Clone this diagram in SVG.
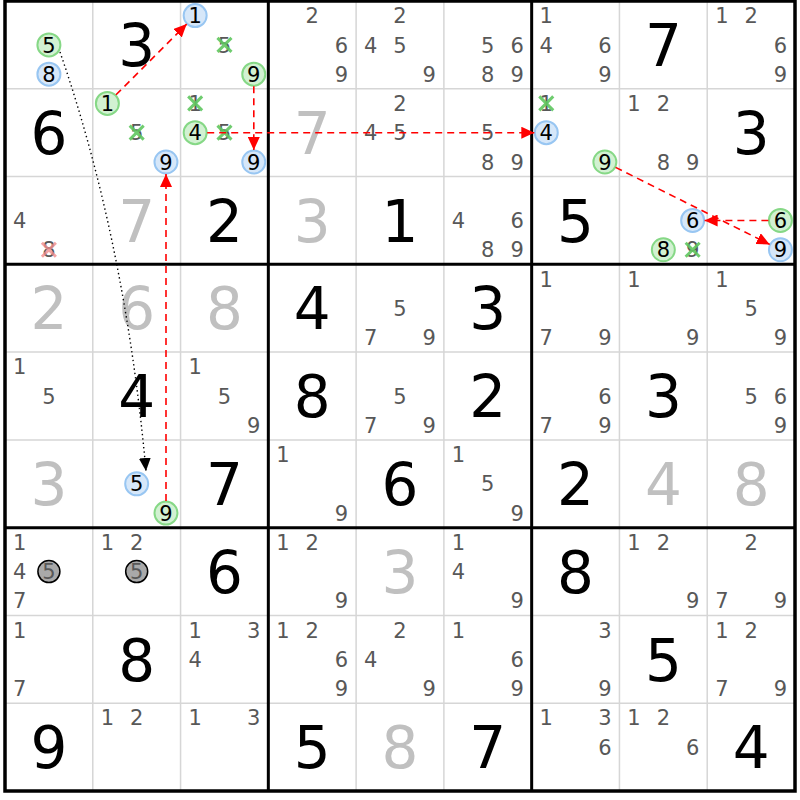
<svg xmlns="http://www.w3.org/2000/svg" xmlns:xlink="http://www.w3.org/1999/xlink" width="800" height="800" viewBox="0 0 800 800">
<style>
text{font-family:"DejaVu Sans","Verdana",sans-serif;text-anchor:middle}
.c{font-size:21px;fill:#585858}
.k{font-size:21px;fill:#000}
.b{font-size:58px;fill:#000}
.g{font-size:58px;fill:#c0c0c0}
.cg{fill:#d2f1d2;stroke:#86d886;stroke-width:2}
.cb{fill:#d6e7f9;stroke:#98c6f2;stroke-width:2}
.cy{fill:#a9a9a9;stroke:#000;stroke-width:1.5}
.xg{stroke:#5fc75f;stroke-width:3;fill:none;opacity:0.9}
.xr{stroke:#f08c8c;stroke-width:3;fill:none;opacity:0.8}
.thin{stroke:#d6d6d6;stroke-width:1.5}
.thick{stroke:#000;stroke-width:3}
.red{fill:none;stroke:#ff0000;stroke-width:1.6;stroke-dasharray:7,5}
.dot{fill:none;stroke:#000;stroke-width:1.4;stroke-dasharray:1.4,3}
</style>
<defs>
<path id="x" d="M-7,-7L7,7M7,-7L-7,7"/>
<marker id="ar" markerUnits="userSpaceOnUse" markerWidth="14" markerHeight="12" refX="13" refY="6" orient="auto" viewBox="0 0 14 12"><path d="M0,0L13,6L0,12z" fill="#ff0000"/></marker>
<marker id="ak" markerUnits="userSpaceOnUse" markerWidth="14" markerHeight="12" refX="13" refY="6" orient="auto" viewBox="0 0 14 12"><path d="M0,0L13,6L0,12z" fill="#000"/></marker>
</defs>
<rect x="0" y="0" width="800" height="800" fill="#fff"/>
<g id="grid">
<path class="thin" d="M92.78,1V791M180.56,1V791M356.11,1V791M443.89,1V791M619.44,1V791M707.22,1V791M5,88.78H795M5,176.56H795M5,352.11H795M5,439.89H795M5,615.44H795M5,703.22H795"/>
<path class="thick" d="M268.33,1V791M531.67,1V791M5,264.33H795M5,527.67H795"/>
<rect x="5" y="1" width="790" height="790" fill="none" stroke="#000" stroke-width="3.5"/>
</g>
<g id="cells">
<!-- row 1 -->
<g id="r1c1" transform="translate(5,1)"><circle class="cg" cx="43.9" cy="43.9" r="11.5"/><text class="k" x="43.9" y="51.5">5</text><circle class="cb" cx="43.9" cy="73.2" r="11.5"/><text class="k" x="43.9" y="80.8">8</text></g>
<g id="r1c2" transform="translate(92.78,1)"><text class="b" x="43.9" y="65.1">3</text></g>
<g id="r1c3" transform="translate(180.56,1)"><circle class="cb" cx="14.6" cy="14.6" r="11.5"/><text class="k" x="14.6" y="22.2">1</text><text class="c" x="43.9" y="51.5">5</text><use href="#x" xlink:href="#x" class="xg" x="43.9" y="43.9"/><circle class="cg" cx="73.2" cy="73.2" r="11.5"/><text class="k" x="73.2" y="80.8">9</text></g>
<g id="r1c4" transform="translate(268.33,1)"><text class="c" x="43.9" y="22.2">2</text><text class="c" x="73.2" y="51.5">6</text><text class="c" x="73.2" y="80.8">9</text></g>
<g id="r1c5" transform="translate(356.11,1)"><text class="c" x="43.9" y="22.2">2</text><text class="c" x="14.6" y="51.5">4</text><text class="c" x="43.9" y="51.5">5</text><text class="c" x="73.2" y="80.8">9</text></g>
<g id="r1c6" transform="translate(443.89,1)"><text class="c" x="43.9" y="51.5">5</text><text class="c" x="73.2" y="51.5">6</text><text class="c" x="43.9" y="80.8">8</text><text class="c" x="73.2" y="80.8">9</text></g>
<g id="r1c7" transform="translate(531.67,1)"><text class="c" x="14.6" y="22.2">1</text><text class="c" x="14.6" y="51.5">4</text><text class="c" x="73.2" y="51.5">6</text><text class="c" x="73.2" y="80.8">9</text></g>
<g id="r1c8" transform="translate(619.44,1)"><text class="b" x="43.9" y="65.1">7</text></g>
<g id="r1c9" transform="translate(707.22,1)"><text class="c" x="14.6" y="22.2">1</text><text class="c" x="43.9" y="22.2">2</text><text class="c" x="73.2" y="51.5">6</text><text class="c" x="73.2" y="80.8">9</text></g>
<!-- row 2 -->
<g id="r2c1" transform="translate(5,88.78)"><text class="b" x="43.9" y="65.1">6</text></g>
<g id="r2c2" transform="translate(92.78,88.78)"><circle class="cg" cx="14.6" cy="14.6" r="11.5"/><text class="k" x="14.6" y="22.2">1</text><text class="c" x="43.9" y="51.5">5</text><use href="#x" xlink:href="#x" class="xg" x="43.9" y="43.9"/><circle class="cb" cx="73.2" cy="73.2" r="11.5"/><text class="k" x="73.2" y="80.8">9</text></g>
<g id="r2c3" transform="translate(180.56,88.78)"><text class="c" x="14.6" y="22.2">1</text><use href="#x" xlink:href="#x" class="xg" x="14.6" y="14.6"/><circle class="cg" cx="14.6" cy="43.9" r="11.5"/><text class="k" x="14.6" y="51.5">4</text><text class="c" x="43.9" y="51.5">5</text><use href="#x" xlink:href="#x" class="xg" x="43.9" y="43.9"/><circle class="cb" cx="73.2" cy="73.2" r="11.5"/><text class="k" x="73.2" y="80.8">9</text></g>
<g id="r2c4" transform="translate(268.33,88.78)"><text class="g" x="43.9" y="65.1">7</text></g>
<g id="r2c5" transform="translate(356.11,88.78)"><text class="c" x="43.9" y="22.2">2</text><text class="c" x="14.6" y="51.5">4</text><text class="c" x="43.9" y="51.5">5</text></g>
<g id="r2c6" transform="translate(443.89,88.78)"><text class="c" x="43.9" y="51.5">5</text><text class="c" x="43.9" y="80.8">8</text><text class="c" x="73.2" y="80.8">9</text></g>
<g id="r2c7" transform="translate(531.67,88.78)"><text class="c" x="14.6" y="22.2">1</text><use href="#x" xlink:href="#x" class="xg" x="14.6" y="14.6"/><circle class="cb" cx="14.6" cy="43.9" r="11.5"/><text class="k" x="14.6" y="51.5">4</text><circle class="cg" cx="73.2" cy="73.2" r="11.5"/><text class="k" x="73.2" y="80.8">9</text></g>
<g id="r2c8" transform="translate(619.44,88.78)"><text class="c" x="14.6" y="22.2">1</text><text class="c" x="43.9" y="22.2">2</text><text class="c" x="43.9" y="80.8">8</text><text class="c" x="73.2" y="80.8">9</text></g>
<g id="r2c9" transform="translate(707.22,88.78)"><text class="b" x="43.9" y="65.1">3</text></g>
<!-- row 3 -->
<g id="r3c1" transform="translate(5,176.56)"><text class="c" x="14.6" y="51.5">4</text><text class="c" x="43.9" y="80.8">8</text><use href="#x" xlink:href="#x" class="xr" x="43.9" y="73.2"/></g>
<g id="r3c2" transform="translate(92.78,176.56)"><text class="g" x="43.9" y="65.1">7</text></g>
<g id="r3c3" transform="translate(180.56,176.56)"><text class="b" x="43.9" y="65.1">2</text></g>
<g id="r3c4" transform="translate(268.33,176.56)"><text class="g" x="43.9" y="65.1">3</text></g>
<g id="r3c5" transform="translate(356.11,176.56)"><text class="b" x="43.9" y="65.1">1</text></g>
<g id="r3c6" transform="translate(443.89,176.56)"><text class="c" x="14.6" y="51.5">4</text><text class="c" x="73.2" y="51.5">6</text><text class="c" x="43.9" y="80.8">8</text><text class="c" x="73.2" y="80.8">9</text></g>
<g id="r3c7" transform="translate(531.67,176.56)"><text class="b" x="43.9" y="65.1">5</text></g>
<g id="r3c8" transform="translate(619.44,176.56)"><circle class="cb" cx="73.2" cy="43.9" r="11.5"/><text class="k" x="73.2" y="51.5">6</text><circle class="cg" cx="43.9" cy="73.2" r="11.5"/><text class="k" x="43.9" y="80.8">8</text><text class="c" x="73.2" y="80.8">9</text><use href="#x" xlink:href="#x" class="xg" x="73.2" y="73.2"/></g>
<g id="r3c9" transform="translate(707.22,176.56)"><circle class="cg" cx="73.2" cy="43.9" r="11.5"/><text class="k" x="73.2" y="51.5">6</text><circle class="cb" cx="73.2" cy="73.2" r="11.5"/><text class="k" x="73.2" y="80.8">9</text></g>
<!-- row 4 -->
<g id="r4c1" transform="translate(5,264.33)"><text class="g" x="43.9" y="65.1">2</text></g>
<g id="r4c2" transform="translate(92.78,264.33)"><text class="g" x="43.9" y="65.1">6</text></g>
<g id="r4c3" transform="translate(180.56,264.33)"><text class="g" x="43.9" y="65.1">8</text></g>
<g id="r4c4" transform="translate(268.33,264.33)"><text class="b" x="43.9" y="65.1">4</text></g>
<g id="r4c5" transform="translate(356.11,264.33)"><text class="c" x="43.9" y="51.5">5</text><text class="c" x="14.6" y="80.8">7</text><text class="c" x="73.2" y="80.8">9</text></g>
<g id="r4c6" transform="translate(443.89,264.33)"><text class="b" x="43.9" y="65.1">3</text></g>
<g id="r4c7" transform="translate(531.67,264.33)"><text class="c" x="14.6" y="22.2">1</text><text class="c" x="14.6" y="80.8">7</text><text class="c" x="73.2" y="80.8">9</text></g>
<g id="r4c8" transform="translate(619.44,264.33)"><text class="c" x="14.6" y="22.2">1</text><text class="c" x="73.2" y="80.8">9</text></g>
<g id="r4c9" transform="translate(707.22,264.33)"><text class="c" x="14.6" y="22.2">1</text><text class="c" x="43.9" y="51.5">5</text><text class="c" x="73.2" y="80.8">9</text></g>
<!-- row 5 -->
<g id="r5c1" transform="translate(5,352.11)"><text class="c" x="14.6" y="22.2">1</text><text class="c" x="43.9" y="51.5">5</text></g>
<g id="r5c2" transform="translate(92.78,352.11)"><text class="b" x="43.9" y="65.1">4</text></g>
<g id="r5c3" transform="translate(180.56,352.11)"><text class="c" x="14.6" y="22.2">1</text><text class="c" x="43.9" y="51.5">5</text><text class="c" x="73.2" y="80.8">9</text></g>
<g id="r5c4" transform="translate(268.33,352.11)"><text class="b" x="43.9" y="65.1">8</text></g>
<g id="r5c5" transform="translate(356.11,352.11)"><text class="c" x="43.9" y="51.5">5</text><text class="c" x="14.6" y="80.8">7</text><text class="c" x="73.2" y="80.8">9</text></g>
<g id="r5c6" transform="translate(443.89,352.11)"><text class="b" x="43.9" y="65.1">2</text></g>
<g id="r5c7" transform="translate(531.67,352.11)"><text class="c" x="73.2" y="51.5">6</text><text class="c" x="14.6" y="80.8">7</text><text class="c" x="73.2" y="80.8">9</text></g>
<g id="r5c8" transform="translate(619.44,352.11)"><text class="b" x="43.9" y="65.1">3</text></g>
<g id="r5c9" transform="translate(707.22,352.11)"><text class="c" x="43.9" y="51.5">5</text><text class="c" x="73.2" y="51.5">6</text><text class="c" x="73.2" y="80.8">9</text></g>
<!-- row 6 -->
<g id="r6c1" transform="translate(5,439.89)"><text class="g" x="43.9" y="65.1">3</text></g>
<g id="r6c2" transform="translate(92.78,439.89)"><circle class="cb" cx="43.9" cy="43.9" r="11.5"/><text class="k" x="43.9" y="51.5">5</text><circle class="cg" cx="73.2" cy="73.2" r="11.5"/><text class="k" x="73.2" y="80.8">9</text></g>
<g id="r6c3" transform="translate(180.56,439.89)"><text class="b" x="43.9" y="65.1">7</text></g>
<g id="r6c4" transform="translate(268.33,439.89)"><text class="c" x="14.6" y="22.2">1</text><text class="c" x="73.2" y="80.8">9</text></g>
<g id="r6c5" transform="translate(356.11,439.89)"><text class="b" x="43.9" y="65.1">6</text></g>
<g id="r6c6" transform="translate(443.89,439.89)"><text class="c" x="14.6" y="22.2">1</text><text class="c" x="43.9" y="51.5">5</text><text class="c" x="73.2" y="80.8">9</text></g>
<g id="r6c7" transform="translate(531.67,439.89)"><text class="b" x="43.9" y="65.1">2</text></g>
<g id="r6c8" transform="translate(619.44,439.89)"><text class="g" x="43.9" y="65.1">4</text></g>
<g id="r6c9" transform="translate(707.22,439.89)"><text class="g" x="43.9" y="65.1">8</text></g>
<!-- row 7 -->
<g id="r7c1" transform="translate(5,527.67)"><text class="c" x="14.6" y="22.2">1</text><text class="c" x="14.6" y="51.5">4</text><circle class="cy" cx="43.9" cy="43.9" r="11"/><text class="c" x="43.9" y="51.5">5</text><text class="c" x="14.6" y="80.8">7</text></g>
<g id="r7c2" transform="translate(92.78,527.67)"><text class="c" x="14.6" y="22.2">1</text><text class="c" x="43.9" y="22.2">2</text><circle class="cy" cx="43.9" cy="43.9" r="11"/><text class="c" x="43.9" y="51.5">5</text></g>
<g id="r7c3" transform="translate(180.56,527.67)"><text class="b" x="43.9" y="65.1">6</text></g>
<g id="r7c4" transform="translate(268.33,527.67)"><text class="c" x="14.6" y="22.2">1</text><text class="c" x="43.9" y="22.2">2</text><text class="c" x="73.2" y="80.8">9</text></g>
<g id="r7c5" transform="translate(356.11,527.67)"><text class="g" x="43.9" y="65.1">3</text></g>
<g id="r7c6" transform="translate(443.89,527.67)"><text class="c" x="14.6" y="22.2">1</text><text class="c" x="14.6" y="51.5">4</text><text class="c" x="73.2" y="80.8">9</text></g>
<g id="r7c7" transform="translate(531.67,527.67)"><text class="b" x="43.9" y="65.1">8</text></g>
<g id="r7c8" transform="translate(619.44,527.67)"><text class="c" x="14.6" y="22.2">1</text><text class="c" x="43.9" y="22.2">2</text><text class="c" x="73.2" y="80.8">9</text></g>
<g id="r7c9" transform="translate(707.22,527.67)"><text class="c" x="43.9" y="22.2">2</text><text class="c" x="14.6" y="80.8">7</text><text class="c" x="73.2" y="80.8">9</text></g>
<!-- row 8 -->
<g id="r8c1" transform="translate(5,615.44)"><text class="c" x="14.6" y="22.2">1</text><text class="c" x="14.6" y="80.8">7</text></g>
<g id="r8c2" transform="translate(92.78,615.44)"><text class="b" x="43.9" y="65.1">8</text></g>
<g id="r8c3" transform="translate(180.56,615.44)"><text class="c" x="14.6" y="22.2">1</text><text class="c" x="73.2" y="22.2">3</text><text class="c" x="14.6" y="51.5">4</text></g>
<g id="r8c4" transform="translate(268.33,615.44)"><text class="c" x="14.6" y="22.2">1</text><text class="c" x="43.9" y="22.2">2</text><text class="c" x="73.2" y="51.5">6</text><text class="c" x="73.2" y="80.8">9</text></g>
<g id="r8c5" transform="translate(356.11,615.44)"><text class="c" x="43.9" y="22.2">2</text><text class="c" x="14.6" y="51.5">4</text><text class="c" x="73.2" y="80.8">9</text></g>
<g id="r8c6" transform="translate(443.89,615.44)"><text class="c" x="14.6" y="22.2">1</text><text class="c" x="73.2" y="51.5">6</text><text class="c" x="73.2" y="80.8">9</text></g>
<g id="r8c7" transform="translate(531.67,615.44)"><text class="c" x="73.2" y="22.2">3</text><text class="c" x="73.2" y="80.8">9</text></g>
<g id="r8c8" transform="translate(619.44,615.44)"><text class="b" x="43.9" y="65.1">5</text></g>
<g id="r8c9" transform="translate(707.22,615.44)"><text class="c" x="14.6" y="22.2">1</text><text class="c" x="43.9" y="22.2">2</text><text class="c" x="14.6" y="80.8">7</text><text class="c" x="73.2" y="80.8">9</text></g>
<!-- row 9 -->
<g id="r9c1" transform="translate(5,703.22)"><text class="b" x="43.9" y="65.1">9</text></g>
<g id="r9c2" transform="translate(92.78,703.22)"><text class="c" x="14.6" y="22.2">1</text><text class="c" x="43.9" y="22.2">2</text></g>
<g id="r9c3" transform="translate(180.56,703.22)"><text class="c" x="14.6" y="22.2">1</text><text class="c" x="73.2" y="22.2">3</text></g>
<g id="r9c4" transform="translate(268.33,703.22)"><text class="b" x="43.9" y="65.1">5</text></g>
<g id="r9c5" transform="translate(356.11,703.22)"><text class="g" x="43.9" y="65.1">8</text></g>
<g id="r9c6" transform="translate(443.89,703.22)"><text class="b" x="43.9" y="65.1">7</text></g>
<g id="r9c7" transform="translate(531.67,703.22)"><text class="c" x="14.6" y="22.2">1</text><text class="c" x="73.2" y="22.2">3</text><text class="c" x="73.2" y="51.5">6</text></g>
<g id="r9c8" transform="translate(619.44,703.22)"><text class="c" x="14.6" y="22.2">1</text><text class="c" x="43.9" y="22.2">2</text><text class="c" x="73.2" y="51.5">6</text></g>
<g id="r9c9" transform="translate(707.22,703.22)"><text class="b" x="43.9" y="65.1">4</text></g>
</g>
<g id="connectors">
<path class="red" d="M116,94.8L186.7,24.1" marker-end="url(#ar)"/>
<path class="red" d="M253.8,86.2V150" marker-end="url(#ar)"/>
<path class="red" d="M207.2,132.7H534.3" marker-end="url(#ar)"/>
<path class="red" d="M615.6,167.4L769.7,244.4" marker-end="url(#ar)"/>
<path class="red" d="M768.4,220.5H704.6" marker-end="url(#ar)"/>
<path class="red" d="M166,501V174" marker-end="url(#ar)"/>
<path class="dot" d="M60,52Q125,240 146,471" marker-end="url(#ak)"/>
</g>
</svg>
